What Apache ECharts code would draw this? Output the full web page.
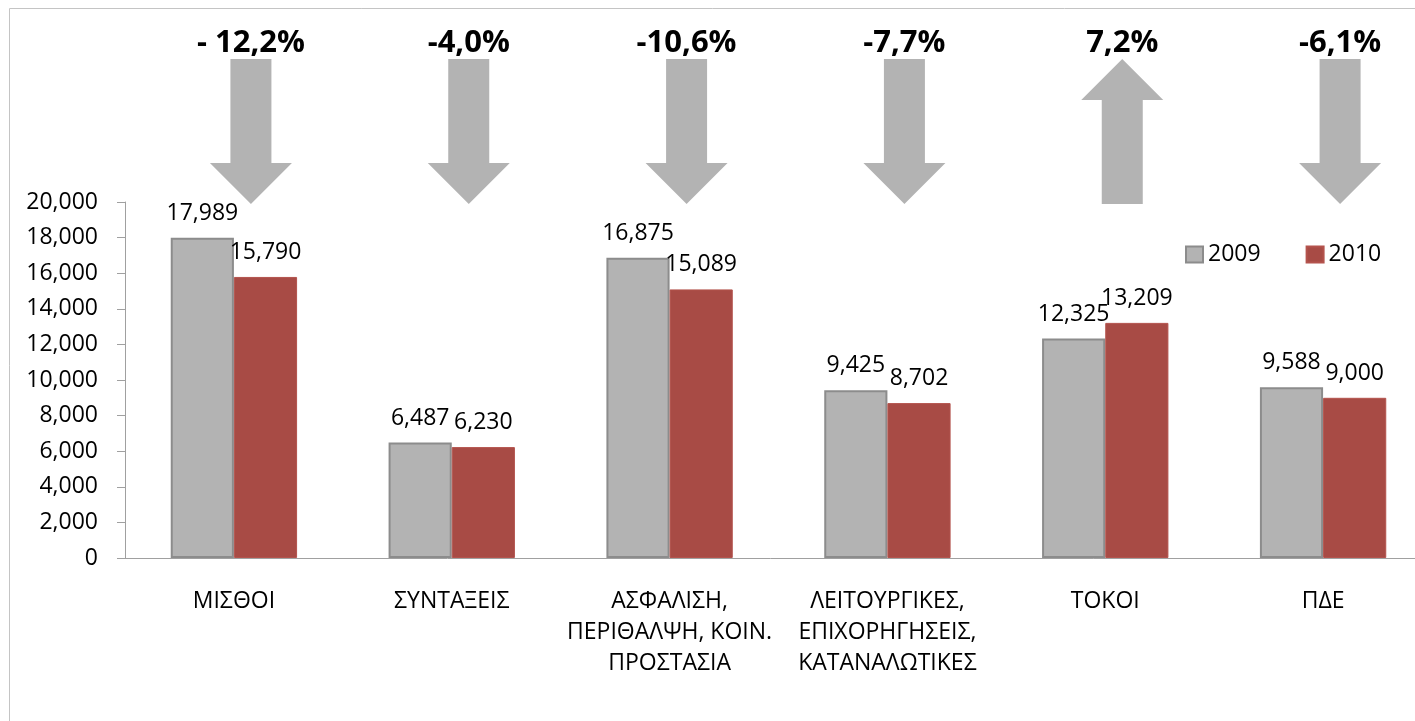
<!DOCTYPE html>
<html>
<head>
<meta charset="utf-8">
<script src="https://cdn.jsdelivr.net/npm/echarts@6/dist/echarts.min.js"></script>
<style>
html, body { margin: 0; padding: 0; background: #fff; }
#chart { width: 1415px; height: 721px; }
</style>
</head>
<body>
<div id="chart"></div>
<script>
// data
const categories = [
    'ΜΙΣΘΟΙ',
    'ΣΥΝΤΑΞΕΙΣ',
    'ΑΣΦΑΛΙΣΗ,\nΠΕΡΙΘΑΛΨΗ, ΚΟΙΝ.\nΠΡΟΣΤΑΣΙΑ',
    'ΛΕΙΤΟΥΡΓΙΚΕΣ,\nΕΠΙΧΟΡΗΓΗΣΕΙΣ,\nΚΑΤΑΝΑΛΩΤΙΚΕΣ',
    'ΤΟΚΟΙ',
    'ΠΔΕ'
];
const values2009 = [17989, 6487, 16875, 9425, 12325, 9588];
const values2010 = [15790, 6230, 15089, 8702, 13209, 9000];
const changeLabels = ['- 12,2%', '-4,0%', '-10,6%', '-7,7%', '7,2%', '-6,1%'];
const seriesNames = ['2009', '2010'];
const yMin = 0;
const yMax = 20000;
const yStep = 2000;

const FONT = 'Open Sans';
const AXIS_GREY = '#a0a0a0';
const ARROW_GREY = '#b3b3b3';

const fmt = v => Number(v).toLocaleString('en-US');

// big arrows above each category, up when 2010 > 2009
function renderArrow(params, api) {
    const i = params.dataIndex;
    const base = api.coord([i, yMax]);
    const cx = base[0] + 17;
    const bottom = base[1] + 2;
    const top = bottom - 145;
    const sw = 20.5, hw = 41, hh = 41;
    const up = values2010[i] > values2009[i];
    let pts;
    if (up) {
        pts = [[cx, top], [cx + hw, top + hh], [cx + sw, top + hh], [cx + sw, bottom],
               [cx - sw, bottom], [cx - sw, top + hh], [cx - hw, top + hh]];
    } else {
        pts = [[cx - sw, top], [cx + sw, top], [cx + sw, bottom - hh], [cx + hw, bottom - hh],
               [cx, bottom], [cx - hw, bottom - hh], [cx - sw, bottom - hh]];
    }
    return {
        type: 'group',
        children: [
            { type: 'polygon', shape: { points: pts }, style: { fill: ARROW_GREY } },
            {
                type: 'text',
                x: cx, y: bottom - 161,
                style: {
                    text: changeLabels[i],
                    fill: '#000',
                    font: 'bold 31px "Open Sans"',
                    align: 'center',
                    verticalAlign: 'middle'
                }
            }
        ]
    };
}

const chart = echarts.init(document.getElementById('chart'));

chart.setOption({
    animation: false,
    textStyle: { fontFamily: FONT },
    graphic: [{
        type: 'rect',
        silent: true,
        shape: { x: 9.5, y: 8.5, width: 1460, height: 760 },
        style: { fill: 'none', stroke: '#c4c4c4', lineWidth: 1 }
    }],
    legend: {
        data: seriesNames,
        left: 1180,
        top: 238,
        icon: 'rect',
        itemWidth: 17,
        itemHeight: 16,
        itemGap: 45,
        textStyle: { fontSize: 23, color: '#000', fontFamily: FONT }
    },
    // plot runs past the right edge of the picture, as in the original
    grid: { left: 125, width: 1307, top: 202, bottom: 163, outerBoundsMode: 'none', containLabel: false },
    xAxis: {
        type: 'category',
        data: categories,
        axisLine: { lineStyle: { color: AXIS_GREY } },
        axisTick: { length: 8, lineStyle: { color: AXIS_GREY } },
        axisLabel: {
            interval: 0,
            fontSize: 23,
            lineHeight: 31,
            margin: 28,
            color: '#000',
            fontFamily: FONT
        }
    },
    yAxis: {
        type: 'value',
        min: yMin,
        max: yMax,
        interval: yStep,
        axisLine: { show: true, lineStyle: { color: AXIS_GREY } },
        axisTick: { show: true, length: 8, lineStyle: { color: AXIS_GREY } },
        splitLine: { show: false },
        axisLabel: {
            fontSize: 23,
            margin: 27,
            color: '#000',
            fontFamily: FONT,
            formatter: fmt
        }
    },
    series: [
        {
            name: seriesNames[0],
            type: 'bar',
            data: values2009,
            barWidth: '29%',
            barGap: '0%',
            itemStyle: { color: '#b3b3b3', borderColor: '#8c8c8c', borderWidth: 2 },
            label: {
                show: true, position: 'top', distance: 13,
                fontSize: 23, color: '#000', fontFamily: FONT,
                formatter: p => fmt(p.value)
            }
        },
        {
            name: seriesNames[1],
            type: 'bar',
            data: values2010,
            barWidth: '29%',
            barGap: '0%',
            itemStyle: { color: '#a84b45', borderColor: '#b4534d', borderWidth: 1 },
            label: {
                show: true, position: 'top', distance: 13,
                fontSize: 23, color: '#000', fontFamily: FONT,
                formatter: p => fmt(p.value)
            }
        },
        {
            type: 'custom',
            name: 'arrows',
            coordinateSystem: 'cartesian2d',
            clip: false,
            silent: true,
            data: categories.map((c, i) => [i, yMax]),
            renderItem: renderArrow
        }
    ]
});
</script>
</body>
</html>
